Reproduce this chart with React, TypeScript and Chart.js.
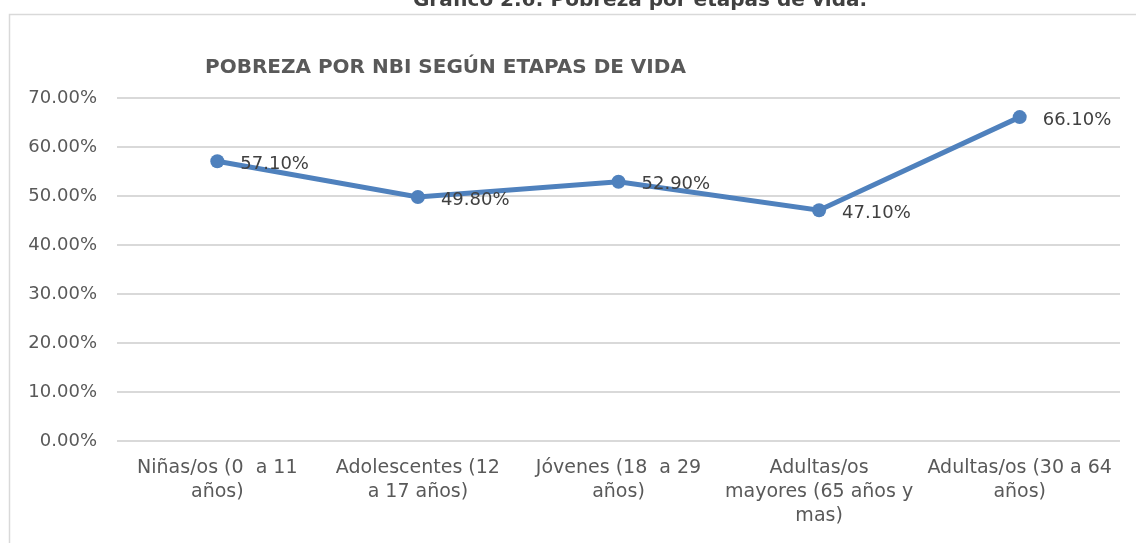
import React, { useEffect, useRef } from "react";
import { Chart, registerables } from "chart.js";

Chart.register(...registerables);

const pageTitle = "Gráfico 2.6: Pobreza por etapas de vida.";
const chartTitle = "POBREZA POR NBI SEGÚN ETAPAS DE VIDA";
const categories: string[][] = [
  ["Niñas/os (0  a 11", "años)"],
  ["Adolescentes (12", "a 17 años)"],
  ["Jóvenes (18  a 29", "años)"],
  ["Adultas/os", "mayores (65 años y", "mas)"],
  ["Adultas/os (30 a 64", "años)"],
];
const values = [0.571, 0.498, 0.529, 0.471, 0.661];
const valueLabels = ["57.10%", "49.80%", "52.90%", "47.10%", "66.10%"];

const FONT = "'DejaVu Sans', sans-serif";
const TEXT = "#595959";

const decorPlugin = {
  id: "decor",
  beforeDraw(chart: any) {
    const ctx = chart.ctx;
    ctx.save();
    ctx.fillStyle = "#ffffff";
    ctx.fillRect(0, 0, chart.width, chart.height);
    ctx.strokeStyle = "#d9d9d9";
    ctx.lineWidth = 1.5;
    ctx.beginPath();
    ctx.moveTo(9.5, chart.height + 5);
    ctx.lineTo(9.5, 14.5);
    ctx.lineTo(chart.width + 5, 14.5);
    ctx.stroke();
    ctx.fillStyle = "#404040";
    ctx.font = `bold 20px ${FONT}`;
    ctx.textAlign = "center";
    ctx.textBaseline = "alphabetic";
    ctx.fillText(pageTitle, 640, 6);
    ctx.fillStyle = TEXT;
    ctx.font = `bold 20px ${FONT}`;
    ctx.textAlign = "left";
    ctx.textBaseline = "middle";
    ctx.fillText(chartTitle, 205, 68);
    ctx.restore();
  },
  afterDatasetsDraw(chart: any) {
    const ctx = chart.ctx;
    const meta = chart.getDatasetMeta(0);
    ctx.save();
    ctx.fillStyle = "#404040";
    ctx.font = `18px ${FONT}`;
    ctx.textAlign = "left";
    ctx.textBaseline = "middle";
    meta.data.forEach((pt: any, i: number) => {
      ctx.fillText(valueLabels[i], pt.x + 23, pt.y + 3);
    });
    ctx.restore();
  },
};

export default function App() {
  const ref = useRef<HTMLCanvasElement | null>(null);
  useEffect(() => {
    document.body.style.margin = "0";
    if (!ref.current) return;
    const chart = new Chart(ref.current, {
      type: "line",
      data: {
        labels: categories,
        datasets: [
          {
            data: values,
            borderColor: "#4F81BD",
            backgroundColor: "#4F81BD",
            borderWidth: 5,
            pointRadius: 7,
            pointBackgroundColor: "#4F81BD",
            pointBorderColor: "#4F81BD",
            pointBorderWidth: 0,
            tension: 0,
          },
        ],
      },
      options: {
        animation: false,
        responsive: false,
        maintainAspectRatio: false,
        layout: { padding: { top: 98, right: 16, left: 0, bottom: 0 } },
        plugins: {
          legend: { display: false },
          tooltip: { enabled: false },
          title: { display: false },
        },
        scales: {
          x: {
            offset: true,
            grid: { display: false, drawTicks: false },
            border: { display: false },
            ticks: {
              autoSkip: false,
              maxRotation: 0,
              minRotation: 0,
              padding: 15,
              color: TEXT,
              font: { family: FONT, size: 19, lineHeight: 1.26 },
            },
            afterFit(scale: any) {
              scale.height = 102;
            },
          },
          y: {
            min: 0,
            max: 0.7,
            grid: { color: "#d9d9d9", lineWidth: 2, drawTicks: false },
            border: { display: false },
            ticks: {
              stepSize: 0.1,
              padding: 20,
              color: TEXT,
              font: { family: FONT, size: 18 },
              callback: (v: any) => (Number(v) * 100).toFixed(2) + "%",
            },
            afterFit(scale: any) {
              scale.width = 117;
            },
          },
        },
      },
      plugins: [decorPlugin],
    });
    return () => chart.destroy();
  }, []);
  return <canvas ref={ref} width={1136} height={543} style={{ display: "block" }} />;
}
